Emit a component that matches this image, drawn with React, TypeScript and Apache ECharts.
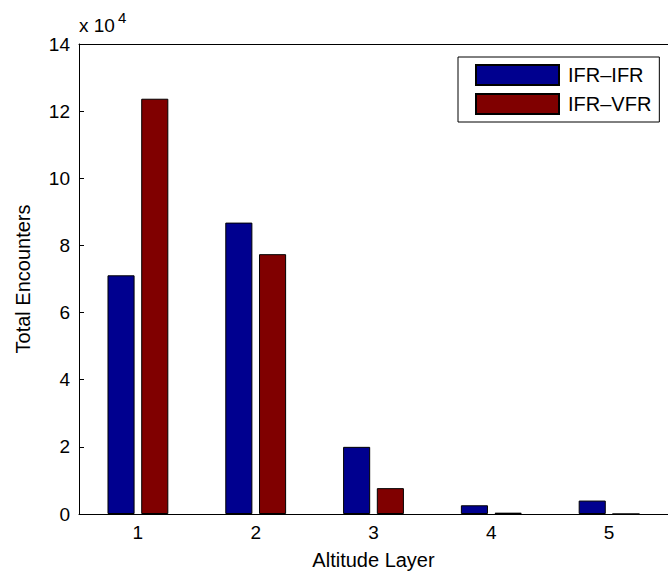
import React, { useEffect, useRef } from "react";
import * as echarts from "echarts";

const categories = ["1", "2", "3", "4", "5"];
const seriesNames = ["IFR–IFR", "IFR–VFR"];
const ifrIfr = [71100, 86800, 20000, 2600, 4000];
const ifrVfr = [123700, 77400, 7700, 400, 0];
const yMin = 0;
const yMax = 140000;
const yStep = 20000;
const yScale = 10000;

const FONT = '"Liberation Sans", Arial, Helvetica, sans-serif';

export default function App() {
  const ref = useRef<HTMLDivElement>(null);
  useEffect(() => {
    if (!ref.current) return;
    const chart = echarts.init(ref.current, null, { renderer: "svg" });
    const axisLineStyle = { color: "#000", width: 1 };
    chart.setOption({
      animation: false,
      backgroundColor: "#fff",
      textStyle: { fontFamily: FONT },
      grid: { left: 79, right: -6, top: 44, bottom: 64, containLabel: false },
      legend: {
        orient: "vertical",
        left: 458,
        top: 57,
        padding: [7, 8, 7, 17],
        itemWidth: 83,
        itemHeight: 20,
        itemGap: 7,
        borderColor: "#000",
        borderWidth: 1,
        backgroundColor: "#fff",
        icon: "rect",
        textStyle: { fontSize: 20, color: "#000", fontFamily: FONT, padding: [0, 0, 0, 4] },
        data: seriesNames,
      },
      xAxis: [
        {
          type: "category",
          data: categories,
          position: "bottom",
          boundaryGap: true,
          name: "Altitude Layer",
          nameLocation: "middle",
          nameGap: 36,
          nameTextStyle: { fontSize: 20, color: "#000", fontFamily: FONT },
          axisLine: { lineStyle: axisLineStyle },
          axisTick: { inside: true, length: 5, alignWithLabel: true, lineStyle: axisLineStyle },
          axisLabel: { fontSize: 19, color: "#000", margin: 9, fontFamily: FONT },
          splitLine: { show: false },
        },
        {
          type: "category",
          data: categories,
          position: "top",
          boundaryGap: true,
          axisLine: { lineStyle: axisLineStyle },
          axisTick: { inside: true, length: 5, alignWithLabel: true, lineStyle: axisLineStyle },
          axisLabel: { show: false },
          splitLine: { show: false },
        },
      ],
      yAxis: {
        type: "value",
        min: yMin,
        max: yMax,
        interval: yStep,
        name: "Total Encounters",
        nameLocation: "middle",
        nameGap: 46,
        nameTextStyle: { fontSize: 20, color: "#000", fontFamily: FONT },
        axisLine: { show: true, lineStyle: axisLineStyle },
        axisTick: { show: true, inside: true, length: 5, lineStyle: axisLineStyle },
        axisLabel: {
          fontSize: 19,
          color: "#000",
          margin: 9,
          fontFamily: FONT,
          formatter: (v: number) => String(Math.round(v / yScale)),
        },
        splitLine: { show: false },
      },
      graphic: [
        {
          type: "text",
          x: 79,
          y: 25,
          style: { text: "x 10", fill: "#000", font: `19px ${FONT}`, verticalAlign: "middle", align: "left" },
        },
        {
          type: "text",
          x: 118,
          y: 17,
          style: { text: "4", fill: "#000", font: `15px ${FONT}`, verticalAlign: "middle", align: "left" },
        },
      ],
      series: [
        {
          name: seriesNames[0],
          type: "bar",
          xAxisIndex: 0,
          data: ifrIfr,
          barWidth: "23%",
          barGap: "24.5%",
          itemStyle: { color: "#00008F", borderColor: "#000", borderWidth: 1 },
        },
        {
          name: seriesNames[1],
          type: "bar",
          xAxisIndex: 0,
          data: ifrVfr,
          barWidth: "23%",
          barGap: "24.5%",
          itemStyle: { color: "#800000", borderColor: "#000", borderWidth: 1 },
        },
      ],
    });
    return () => chart.dispose();
  }, []);
  return (
    <div
      ref={ref}
      style={{ position: "fixed", left: 0, top: 0, width: 668, height: 578, background: "#fff" }}
    />
  );
}
